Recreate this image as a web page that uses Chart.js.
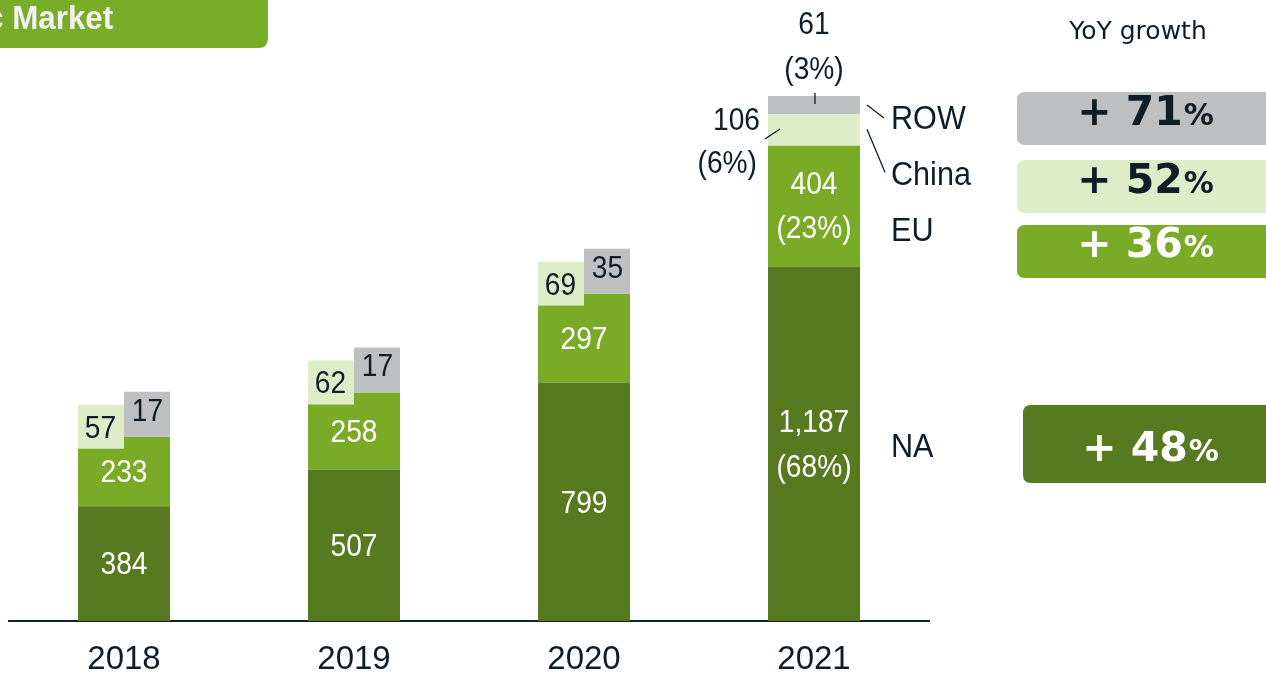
<!DOCTYPE html>
<html>
<head>
<meta charset="utf-8">
<script src="https://cdn.jsdelivr.net/npm/chart.js@4/dist/chart.umd.min.js"></script>
<style>
html,body{margin:0;padding:0;background:#fff;}
#wrap{position:relative;width:1266px;height:674px;overflow:hidden;}
canvas{display:block;}
</style>
</head>
<body>
<div id="wrap"><canvas id="c" width="1266" height="674"></canvas></div>
<script>
// ---- data ----
const years = ['2018', '2019', '2020', '2021'];
const naValues = [384, 507, 799, 1187];
const euValues = [233, 258, 297, 404];
const chinaValues = [57, 62, 69, 106];
const rowValues = [17, 17, 35, 61];
const seriesNames = ['NA', 'EU', 'China', 'ROW'];
const growthNumbers = ['+ 71', '+ 52', '+ 36', '+ 48']; // ROW, China, EU, NA
const titleText = 'c Market';
const growthTitle = 'YoY growth';

// ---- styles ----
const C_NA = '#57791F', C_EU = '#7AAB27', C_CH = '#DCEDC7', C_ROW = '#BEBFC1';
const DARK = '#0E1E29';
const SANS = '"Liberation Sans", Arial, sans-serif';
const HS = 0.88; // horizontal squeeze to mimic a narrow face

function rrect(ctx, x, y, w, h, r) {
  ctx.beginPath();
  ctx.moveTo(x + r, y);
  ctx.lineTo(x + w - r, y);
  ctx.quadraticCurveTo(x + w, y, x + w, y + r);
  ctx.lineTo(x + w, y + h - r);
  ctx.quadraticCurveTo(x + w, y + h, x + w - r, y + h);
  ctx.lineTo(x + r, y + h);
  ctx.quadraticCurveTo(x, y + h, x, y + h - r);
  ctx.lineTo(x, y + r);
  ctx.quadraticCurveTo(x, y, x + r, y);
  ctx.closePath();
}

function txt(ctx, s, x, y, color, font, align, hs) {
  ctx.save();
  ctx.fillStyle = color;
  ctx.font = font;
  ctx.textAlign = align || 'center';
  ctx.textBaseline = 'middle';
  ctx.translate(x, y);
  ctx.scale(hs || 1, 1);
  ctx.fillText(s, 0, 0);
  ctx.restore();
}

function line(ctx, x1, y1, x2, y2) {
  ctx.strokeStyle = DARK;
  ctx.lineWidth = 1.3;
  ctx.beginPath();
  ctx.moveTo(x1, y1);
  ctx.lineTo(x2, y2);
  ctx.stroke();
}

const labelPlugin = {
  id: 'customLabels',
  afterDatasetsDraw(chart) {
    const ctx = chart.ctx;
    ctx.save();
    const metas = [0, 1, 2, 3].map(i => chart.getDatasetMeta(i));
    const vFont = '32px ' + SANS;
    years.forEach((yr, i) => {
      const na = metas[0].data[i].getProps(['x', 'y', 'base', 'width'], true);
      const eu = metas[1].data[i].getProps(['x', 'y', 'base', 'width'], true);
      const ch = metas[2].data[i].getProps(['x', 'y', 'base', 'width'], true);
      const rw = metas[3].data[i].getProps(['x', 'y', 'base', 'width'], true);
      const left = na.x - na.width / 2, right = na.x + na.width / 2;
      const naMid = (na.y + na.base) / 2, euMid = (eu.y + eu.base) / 2;
      if (i < years.length - 1) {
        txt(ctx, naValues[i].toLocaleString('en-US'), na.x, naMid + 2, '#fff', vFont, 'center', HS);
        txt(ctx, euValues[i].toLocaleString('en-US'), eu.x, euMid + 2, '#fff', vFont, 'center', HS);
        const half = na.width / 2;
        // China box
        const cb = eu.y + 12;
        ctx.fillStyle = C_CH;
        ctx.fillRect(left, cb - 44, half, 44);
        txt(ctx, String(chinaValues[i]), left + 22.5, cb - 20, DARK, vFont, 'center', HS);
        // ROW box
        const rb = eu.y;
        ctx.fillStyle = C_ROW;
        ctx.fillRect(right - half, rb - 45, half, 45);
        txt(ctx, String(rowValues[i]), right - 22.5, rb - 25, DARK, vFont, 'center', HS);
      } else {
        const total = naValues[i] + euValues[i] + chinaValues[i] + rowValues[i];
        const pct = v => '(' + Math.round(v / total * 100) + '%)';
        txt(ctx, naValues[i].toLocaleString('en-US'), na.x, naMid - 21, '#fff', vFont, 'center', HS);
        txt(ctx, pct(naValues[i]), na.x, naMid + 24, '#fff', vFont, 'center', HS);
        txt(ctx, euValues[i].toLocaleString('en-US'), eu.x, euMid - 21, '#fff', vFont, 'center', HS);
        txt(ctx, pct(euValues[i]), eu.x, euMid + 23, '#fff', vFont, 'center', HS);
        // ROW above
        txt(ctx, String(rowValues[i]), rw.x, rw.y - 71, DARK, vFont, 'center', HS);
        txt(ctx, pct(rowValues[i]), rw.x, rw.y - 26, DARK, vFont, 'center', HS);
        line(ctx, rw.x + 1, rw.y - 3, rw.x + 1, rw.y + 8);
        // China left
        const chMid = (ch.y + ch.base) / 2;
        txt(ctx, String(chinaValues[i]), left - 8, chMid - 9, DARK, vFont, 'right', HS);
        txt(ctx, pct(chinaValues[i]), left - 11, chMid + 34, DARK, vFont, 'right', HS);
        line(ctx, left - 3, chMid + 9, left + 12, chMid - 1);
        // series labels on the right
        const lf = '34px ' + SANS;
        line(ctx, right + 7, rw.y + 9, right + 24, rw.y + 22);
        line(ctx, right + 7, ch.y + 15, right + 25, ch.y + 58);
        txt(ctx, seriesNames[3], right + 31, rw.y + 24, DARK, lf, 'left', 0.9);
        txt(ctx, seriesNames[2], right + 31, ch.y + 61, DARK, lf, 'left', 0.9);
        txt(ctx, seriesNames[1], right + 31, euMid + 25, DARK, lf, 'left', 0.9);
        txt(ctx, seriesNames[0], right + 31, naMid + 4, DARK, lf, 'left', 0.9);
      }
    });

    // Title box (cut at the top-left corner)
    ctx.fillStyle = '#79AC27';
    rrect(ctx, -20, -20, 288, 68, 10);
    ctx.fill();
    txt(ctx, titleText, -14, 20, '#F2F2F2', 'bold 33px ' + SANS, 'left', 0.95);

    // YoY growth panel
    txt(ctx, growthTitle, 1138, 32, DARK, '25px "DejaVu Sans", Verdana, sans-serif');
    const boxes = [
      {x: 1017, y: 92, h: 53, fill: C_ROW, color: DARK, ty: 110},
      {x: 1017, y: 160, h: 53, fill: C_CH, color: DARK, ty: 178},
      {x: 1017, y: 225, h: 53, fill: C_EU, color: '#fff', ty: 242},
      {x: 1023, y: 405, h: 78, fill: C_NA, color: '#fff', ty: 446}
    ];
    boxes.forEach((b, k) => {
      ctx.fillStyle = b.fill;
      rrect(ctx, b.x, b.y, 1290 - b.x, b.h, 8);
      ctx.fill();
      const bigF = 'bold 41px "DejaVu Sans", Verdana, sans-serif';
      const smF = 'bold 30px "DejaVu Sans", Verdana, sans-serif';
      ctx.font = bigF;
      const w1 = ctx.measureText(growthNumbers[k]).width;
      ctx.font = smF;
      const w2 = ctx.measureText('%').width;
      const cx = k === 3 ? 1150 : 1145;
      const sx = cx - (w1 + w2) / 2;
      ctx.fillStyle = b.color;
      ctx.textBaseline = 'alphabetic';
      ctx.textAlign = 'left';
      ctx.font = bigF;
      ctx.fillText(growthNumbers[k], sx, b.ty + 15);
      ctx.font = smF;
      ctx.fillText('%', sx + w1 + 1, b.ty + 15);
    });
    ctx.restore();
  }
};

new Chart(document.getElementById('c'), {
  type: 'bar',
  data: {
    labels: years,
    datasets: [
      {label: seriesNames[0], data: naValues, backgroundColor: C_NA},
      {label: seriesNames[1], data: euValues, backgroundColor: C_EU},
      {label: seriesNames[2], data: chinaValues, backgroundColor: C_CH},
      {label: seriesNames[3], data: rowValues, backgroundColor: C_ROW}
    ]
  },
  options: {
    responsive: false,
    animation: false,
    devicePixelRatio: 1,
    layout: {padding: {left: 9, right: 337, top: 50, bottom: 0}},
    datasets: {bar: {barPercentage: 0.4, categoryPercentage: 1.0, borderWidth: 0}},
    plugins: {legend: {display: false}, tooltip: {enabled: false}, title: {display: false}},
    scales: {
      x: {
        stacked: true,
        afterFit: (scale) => { scale.height = 53; },
        grid: {display: false, drawTicks: false},
        border: {display: true, color: '#16232C', width: 2},
        ticks: {color: DARK, padding: 22, font: {family: SANS, size: 33, lineHeight: 1}}
      },
      y: {
        stacked: true,
        display: false,
        min: 0,
        max: 1912
      }
    }
  },
  plugins: [labelPlugin]
});
</script>
</body>
</html>
